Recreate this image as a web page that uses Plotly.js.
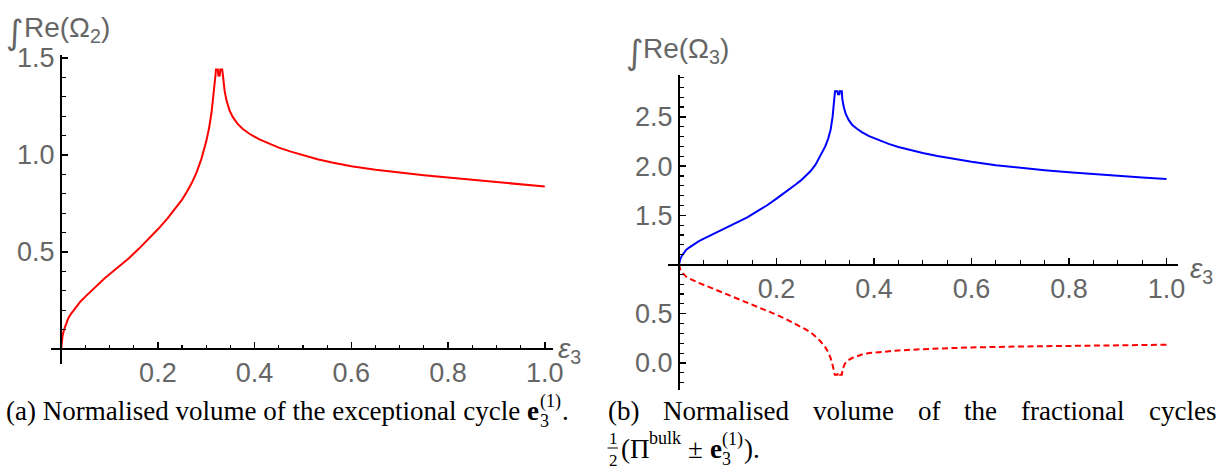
<!DOCTYPE html>
<html><head><meta charset="utf-8">
<script src="https://cdn.plot.ly/plotly-3.0.1.min.js"></script>
<style>html,body{margin:0;padding:0;background:#fff}#plot{width:1228px;height:475px}</style>
</head><body><div id="plot"></div>
<script>
// ---------------- data ----------------
const leftX = [0, 0.001, 0.003, 0.006, 0.01, 0.015, 0.02, 0.03, 0.04, 0.05, 0.06, 0.07, 0.08, 0.09, 0.10, 0.11, 0.12, 0.14, 0.16, 0.18, 0.20, 0.22, 0.24, 0.25, 0.26, 0.27, 0.28, 0.29, 0.30, 0.306, 0.311, 0.315, 0.318, 0.3195, 0.320, 0.324, 0.325, 0.328, 0.329, 0.333, 0.335, 0.338, 0.342, 0.348, 0.355, 0.365, 0.375, 0.39, 0.41, 0.43, 0.45, 0.475, 0.5, 0.53, 0.56, 0.6, 0.65, 0.7, 0.75, 0.8, 0.85, 0.9, 0.95, 1.0];
const leftY = [0, 0.035, 0.07, 0.10, 0.13, 0.16, 0.18, 0.215, 0.245, 0.27, 0.295, 0.32, 0.345, 0.365, 0.385, 0.405, 0.425, 0.468, 0.515, 0.565, 0.617, 0.673, 0.735, 0.77, 0.81, 0.855, 0.91, 0.98, 1.07, 1.14, 1.22, 1.30, 1.37, 1.42, 1.44, 1.44, 1.41, 1.41, 1.44, 1.44, 1.40, 1.33, 1.28, 1.23, 1.195, 1.16, 1.135, 1.108, 1.08, 1.057, 1.038, 1.017, 0.998, 0.978, 0.961, 0.942, 0.924, 0.909, 0.896, 0.884, 0.872, 0.860, 0.848, 0.837];

const blueX = [0, 0.001, 0.003, 0.006, 0.01, 0.015, 0.02, 0.03, 0.04, 0.05, 0.06, 0.07, 0.08, 0.09, 0.10, 0.12, 0.14, 0.16, 0.18, 0.20, 0.22, 0.24, 0.25, 0.26, 0.27, 0.28, 0.29, 0.30, 0.306, 0.311, 0.315, 0.318, 0.3195, 0.320, 0.325, 0.326, 0.329, 0.330, 0.334, 0.335, 0.338, 0.342, 0.348, 0.355, 0.365, 0.375, 0.39, 0.41, 0.43, 0.45, 0.475, 0.5, 0.53, 0.56, 0.6, 0.65, 0.7, 0.75, 0.8, 0.85, 0.9, 0.95, 1.0];
const blueY = [1.0, 1.03, 1.06, 1.09, 1.12, 1.15, 1.17, 1.205, 1.235, 1.26, 1.285, 1.31, 1.335, 1.355, 1.38, 1.43, 1.48, 1.54, 1.60, 1.67, 1.74, 1.815, 1.855, 1.90, 1.95, 2.015, 2.10, 2.20, 2.28, 2.37, 2.50, 2.64, 2.72, 2.76, 2.76, 2.73, 2.73, 2.76, 2.76, 2.68, 2.60, 2.53, 2.47, 2.42, 2.38, 2.345, 2.305, 2.262, 2.226, 2.195, 2.162, 2.133, 2.103, 2.076, 2.044, 2.01, 1.982, 1.958, 1.937, 1.918, 1.901, 1.885, 1.87];

const redX = [0, 0.001, 0.003, 0.006, 0.01, 0.015, 0.02, 0.03, 0.04, 0.05, 0.06, 0.07, 0.08, 0.09, 0.10, 0.12, 0.14, 0.16, 0.18, 0.20, 0.22, 0.24, 0.25, 0.26, 0.27, 0.28, 0.29, 0.30, 0.306, 0.311, 0.315, 0.318, 0.3195, 0.325, 0.326, 0.329, 0.330, 0.334, 0.336, 0.34, 0.345, 0.355, 0.365, 0.375, 0.39, 0.42, 0.45, 0.5, 0.55, 0.6, 0.7, 0.8, 0.9, 1.0];
const redY = [1.0, 0.97, 0.945, 0.92, 0.895, 0.875, 0.86, 0.835, 0.815, 0.795, 0.775, 0.755, 0.735, 0.715, 0.695, 0.655, 0.615, 0.575, 0.535, 0.49, 0.445, 0.395, 0.37, 0.34, 0.31, 0.27, 0.22, 0.16, 0.11, 0.05, -0.02, -0.09, -0.12, -0.12, -0.10, -0.10, -0.12, -0.12, -0.06, -0.01, 0.02, 0.05, 0.07, 0.085, 0.10, 0.115, 0.127, 0.14, 0.15, 0.158, 0.167, 0.174, 0.18, 0.185];

const xTickVals = [0.2, 0.4, 0.6, 0.8, 1.0];
const xTickText = ['0.2', '0.4', '0.6', '0.8', '1.0'];
const leftYTickVals = [0.5, 1.0, 1.5];
const leftYTickText = ['0.5', '1.0', '1.5'];
const rightYTickVals = [0.0, 0.5, 1.5, 2.0, 2.5];
const rightYTickText = ['0.0', '0.5', '1.5', '2.0', '2.5'];

const leftTitle = 'Re(Ω<sub>2</sub>)';
const rightTitle = 'Re(Ω<sub>3</sub>)';
const integralSign = '∫';
const xLabel = '<i>ε</i><sub>3</sub>';
const capA = '(a) Normalised volume of the exceptional cycle';
const capBWords = ['(b)', 'Normalised', 'volume', 'of', 'the', 'fractional', 'cycles'];

// ---------------- layout helpers ----------------
const W = 1228, H = 475;
const PX = x => x / W;
const PY = y => 1 - y / H;
const SANS = 'Liberation Sans, Arial, sans-serif';
const SERIF = 'Liberation Serif, Times New Roman, serif';
const GRAY = '#666666';
const TF = 27;

function xAxis(dom, range, posY) {
  return {
    domain: [PX(dom[0]), PX(dom[1])], range: range, anchor: 'free', position: PY(posY),
    showline: true, linecolor: '#000', linewidth: 2, zeroline: false, showgrid: false,
    ticks: 'inside', ticklen: 6, tickwidth: 1.5, tickcolor: '#000',
    tickmode: 'array', tickvals: xTickVals, ticktext: xTickText,
    tickfont: {family: SANS, size: TF, color: GRAY},
    minor: {tickmode: 'linear', tick0: 0, dtick: 0.05, ticks: 'inside', ticklen: 3.5, tickwidth: 1.2, tickcolor: '#000', showgrid: false},
    fixedrange: true
  };
}
function yAxis(dom, range, posX, vals, txt) {
  return {
    domain: [PY(dom[1]), PY(dom[0])], range: range, anchor: 'free', position: PX(posX), side: 'left',
    showline: true, linecolor: '#000', linewidth: 2, zeroline: false, showgrid: false,
    ticks: 'inside', ticklen: 6, tickwidth: 1.5, tickcolor: '#000',
    tickmode: 'array', tickvals: vals, ticktext: txt,
    tickfont: {family: SANS, size: TF, color: GRAY},
    minor: {tickmode: 'linear', tick0: 0, dtick: 0.1, ticks: 'inside', ticklen: 3.5, tickwidth: 1.2, tickcolor: '#000', showgrid: false},
    fixedrange: true
  };
}

const ctx = document.createElement('canvas').getContext('2d');
function tw(text, size, bold, family) {
  ctx.font = (bold ? 'bold ' : '') + size + 'px ' + (family || '"Liberation Serif"');
  return ctx.measureText(text).width;
}
const annotations = [];
function ann(text, x, y, size, opt) {
  opt = opt || {};
  annotations.push({
    xref: 'paper', yref: 'paper', x: PX(x), y: PY(y), xanchor: opt.xanchor || 'left', yanchor: 'middle',
    text: text, showarrow: false, borderpad: 0,
    font: {family: opt.family || SERIF, size: size, color: opt.color || '#000'}
  });
}

// axis titles / labels
ann(integralSign, 5, 32, 34, {family: 'DejaVu Sans, sans-serif', color: GRAY});
ann(leftTitle, 23, 30, 28, {family: SANS, color: GRAY});
ann(integralSign, 625, 52, 34, {family: 'DejaVu Sans, sans-serif', color: GRAY});
ann(rightTitle, 642, 50, 28, {family: SANS, color: GRAY});
ann(xLabel, 557, 350, 28, {family: SANS, color: GRAY});
ann(xLabel, 1189, 270, 28, {family: SANS, color: GRAY});

// captions
const CS = 27, SS = 18;
const L1 = 411, L2 = 449;
const sp = tw(' ', CS);
let cx = 5;
ann(capA, cx, L1, CS);
cx += tw(capA, CS) + sp;
ann('<b>e</b>', cx, L1, CS);
cx += tw('e', CS, true) + 0.5;
ann('(1)', cx, L1 - 10, SS);
ann('3', cx, L1 + 10, SS);
cx += tw('(1)', SS) + 1;
ann('.', cx, L1, CS);

// caption b line 1, justified
const bx0 = 607, bx1 = 1215;
const wsum = capBWords.reduce((s, w) => s + tw(w, CS), 0);
const gap = (bx1 - bx0 - wsum) / (capBWords.length - 1);
let bx = bx0;
capBWords.forEach(w => { ann(w, bx, L1, CS); bx += tw(w, CS) + gap; });

// caption b line 2
let lx = 607;
ann('1', lx + 1, L2 - 11, 17);
ann('2', lx + 1, L2 + 11, 17);
const shapes = [{type: 'line', xref: 'paper', yref: 'paper', x0: PX(lx + 0.5), x1: PX(lx + 11), y0: PY(L2 - 1), y1: PY(L2 - 1), line: {color: '#000', width: 1}}];
lx += 13;
ann('(Π', lx, L2, CS);
lx += tw('(Π', CS);
ann('bulk', lx, L2 - 11, SS);
lx += tw('bulk', SS) + sp;
ann('±', lx, L2, CS);
lx += tw('±', CS) + sp;
ann('<b>e</b>', lx, L2, CS);
lx += tw('e', CS, true) + 0.5;
ann('(1)', lx, L2 - 10, SS);
ann('3', lx, L2 + 10, SS);
lx += tw('(1)', SS) + 1;
ann(').', lx, L2, CS);

const traces = [
  {x: leftX, y: leftY, xaxis: 'x', yaxis: 'y', mode: 'lines', line: {color: '#ff0000', width: 2}, hoverinfo: 'skip'},
  {x: blueX, y: blueY, xaxis: 'x2', yaxis: 'y2', mode: 'lines', line: {color: '#0000ff', width: 2}, hoverinfo: 'skip'},
  {x: redX, y: redY, xaxis: 'x2', yaxis: 'y2', mode: 'lines', line: {color: '#ff0000', width: 2, dash: '6px,3.5px'}, hoverinfo: 'skip'}
];

const layout = {
  width: W, height: H, margin: {l: 0, r: 0, t: 0, b: 0},
  paper_bgcolor: '#fff', plot_bgcolor: 'rgba(0,0,0,0)', showlegend: false,
  xaxis: xAxis([51, 553], [-0.021, 1.017], 349),
  yaxis: yAxis([55, 364], [-0.077, 1.515], 61, leftYTickVals, leftYTickText),
  xaxis2: xAxis([668, 1178], [-0.0226, 1.0236], 264.5),
  yaxis2: yAxis([75, 390], [-0.275, 2.926], 679, rightYTickVals, rightYTickText),
  annotations: annotations, shapes: shapes
};
Plotly.newPlot('plot', traces, layout, {staticPlot: true, displayModeBar: false});
</script></body></html>
